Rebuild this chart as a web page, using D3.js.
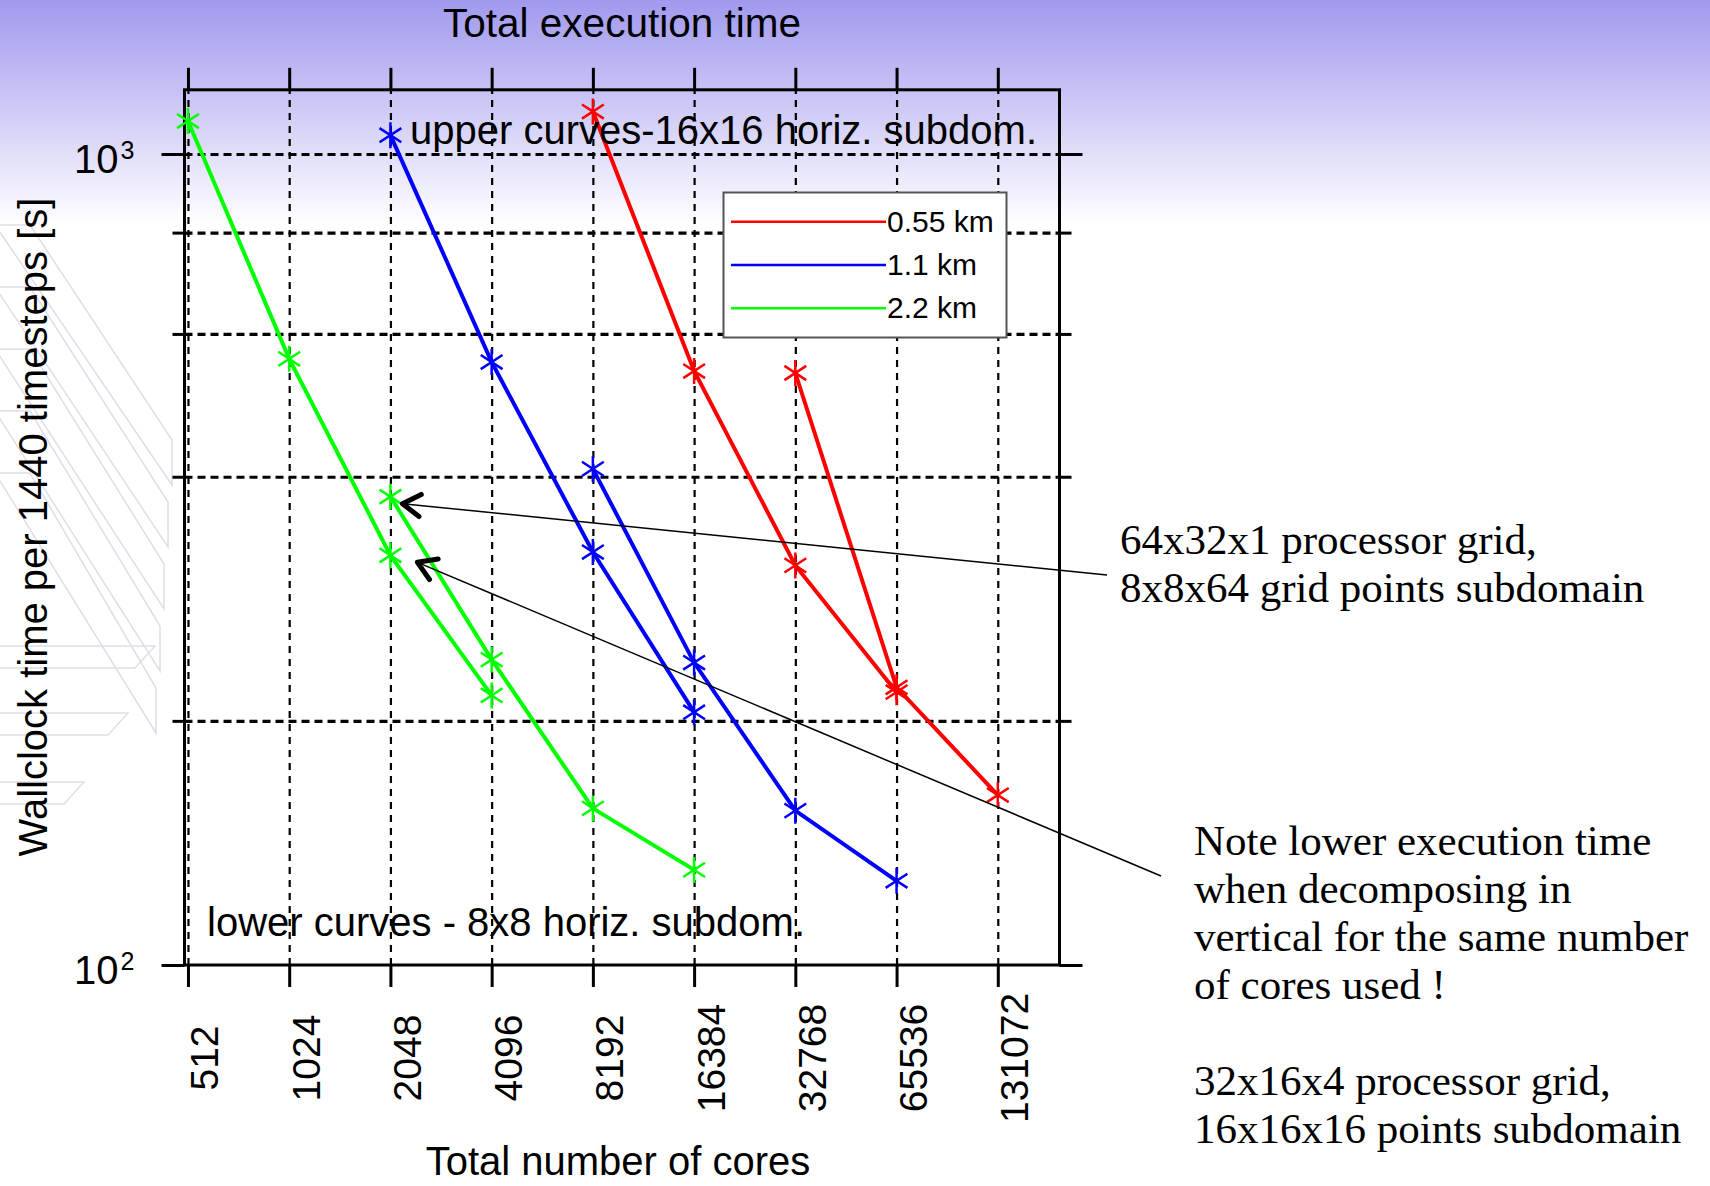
<!DOCTYPE html>
<html>
<head>
<meta charset="utf-8">
<script src="https://cdn.jsdelivr.net/npm/d3@7"></script>
<style>
  body { margin: 0; background: #fff; }
  svg { display: block; }
</style>
</head>
<body>
<script>
// ---- data ----
const coreTicks = [512, 1024, 2048, 4096, 8192, 16384, 32768, 65536, 131072];
const timeMajor = [100, 1000];
const timeMinor = [200, 400, 600, 800];

// 0.55 km
const red16Cores = [8192, 16384, 32768, 65536];
const red16Time = [1128, 540, 311, 217];
const red8Cores = [32768, 65536, 131072];
const red8Time = [537, 220, 162];
// 1.1 km
const blue16Cores = [2048, 4096, 8192, 16384];
const blue16Time = [1055, 554, 323, 205];
const blue8Cores = [8192, 16384, 32768, 65536];
const blue8Time = [409, 236, 155, 127];
// 2.2 km
const green16Cores = [512, 1024, 2048, 4096];
const green16Time = [1098, 559, 320, 215];
const green8Cores = [2048, 4096, 8192, 16384];
const green8Time = [378, 238, 156, 131];

const legendLabels = ["0.55 km", "1.1 km", "2.2 km"];
const legendColors = ["#ff0000", "#0000ff", "#00ff00"];

const noteTop = ["64x32x1 processor grid,", "8x8x64 grid points subdomain"];
const noteBottom = ["Note lower execution time", "when decomposing in", "vertical for the same number",
  "of cores used !", "", "32x16x4 processor grid,", "16x16x16 points subdomain"];

const series = [
  { color: legendColors[0], cores: red16Cores, time: red16Time },
  { color: legendColors[0], cores: red8Cores, time: red8Time },
  { color: legendColors[1], cores: blue16Cores, time: blue16Time },
  { color: legendColors[1], cores: blue8Cores, time: blue8Time },
  { color: legendColors[2], cores: green16Cores, time: green16Time },
  { color: legendColors[2], cores: green8Cores, time: green8Time }
];

const W = 1710, H = 1186;
const sans = "'Liberation Sans', Arial, sans-serif";
const serif = "'Liberation Serif', 'Times New Roman', serif";
const plot = { left: 184.5, right: 1059.5, top: 89.8, bottom: 965 };

const svg = d3.select("body").append("svg")
  .attr("width", W)
  .attr("height", H);

// slide background: purple fade at the top
const defs = svg.append("defs");
const grad = defs.append("linearGradient")
  .attr("id", "bg").attr("x1", 0).attr("y1", 0).attr("x2", 0).attr("y2", 1);
grad.append("stop").attr("offset", 0).attr("stop-color", "#a199ee");
grad.append("stop").attr("offset", 0.19).attr("stop-color", "#ffffff");
svg.append("rect").attr("width", W).attr("height", H).attr("fill", "url(#bg)");

// faint template logo on the left
const logo = svg.append("g").attr("fill", "none").attr("stroke", "#dedee9").attr("stroke-width", 1.5);
for (let k = 0; k < 5; k++) {
  const y0 = 225 + k * 62;
  logo.append("path")
    .attr("d", `M-5,${y0}L30,${y0}L${172 - k * 4},${y0 + 215}L${172 - k * 4},${y0 + 260}Z`);
}
[[646, 155], [713, 128], [782, 84]].forEach(([yy, len]) => {
  logo.append("path").attr("d", `M-5,${yy}L${len},${yy}L${len - 20},${yy + 22}L-5,${yy + 22}`);
});

const x = d3.scaleLog().base(2).domain([500, 200000]).range([plot.left, plot.right]);
const y = d3.scaleLog().domain([100, 1200]).range([plot.bottom, plot.top]);

// grid
const vgrid = svg.append("g")
  .attr("transform", `translate(0,${plot.bottom})`)
  .call(d3.axisBottom(x).tickValues(coreTicks).tickSize(-(plot.bottom - plot.top)).tickFormat(""));
vgrid.select(".domain").remove();
vgrid.selectAll("line").attr("stroke", "#000").attr("stroke-width", 2.2).attr("stroke-dasharray", "7,6");

const hgrid = svg.append("g")
  .attr("transform", `translate(${plot.left},0)`)
  .call(d3.axisLeft(y).tickValues(timeMinor.concat([1000])).tickSize(-(plot.right - plot.left)).tickFormat(""));
hgrid.select(".domain").remove();
hgrid.selectAll("line").attr("stroke", "#000").attr("stroke-width", 3.2).attr("stroke-dasharray", "8,5");

// axes box
svg.append("rect")
  .attr("x", plot.left).attr("y", plot.top)
  .attr("width", plot.right - plot.left).attr("height", plot.bottom - plot.top)
  .attr("fill", "none").attr("stroke", "#000").attr("stroke-width", 3);

function styleAxis(g) {
  g.select(".domain").remove();
  g.selectAll("line").attr("stroke", "#000").attr("stroke-width", 3);
}

// bottom axis with rotated labels
const xAxis = svg.append("g")
  .attr("transform", `translate(0,${plot.bottom})`)
  .call(d3.axisBottom(x).tickValues(coreTicks).tickSize(22).tickSizeOuter(0).tickFormat(d3.format("d")));
styleAxis(xAxis);
xAxis.selectAll("text")
  .attr("y", null).attr("dy", null)
  .attr("transform", "translate(30,93) rotate(-90)")
  .attr("text-anchor", "middle")
  .attr("fill", "#000")
  .style("font-family", sans).style("font-size", "39px");

const xTop = svg.append("g")
  .attr("transform", `translate(0,${plot.top})`)
  .call(d3.axisTop(x).tickValues(coreTicks).tickSize(22).tickSizeOuter(0).tickFormat(""));
styleAxis(xTop);

// y axes, both sides, long major and short minor ticks
[[d3.axisLeft, plot.left], [d3.axisRight, plot.right]].forEach(([axisFn, pos]) => {
  const major = svg.append("g").attr("transform", `translate(${pos},0)`)
    .call(axisFn(y).tickValues(timeMajor).tickSize(23).tickSizeOuter(0).tickFormat(""));
  styleAxis(major);
  const minor = svg.append("g").attr("transform", `translate(${pos},0)`)
    .call(axisFn(y).tickValues(timeMinor).tickSize(12).tickSizeOuter(0).tickFormat(""));
  styleAxis(minor);
  if (pos === plot.left) {
    const lab = major.selectAll(".tick").append("text")
      .attr("x", -50).attr("y", 18)
      .attr("text-anchor", "end")
      .attr("fill", "#000")
      .style("font-family", sans);
    lab.append("tspan").style("font-size", "40px").text("10");
    lab.append("tspan").style("font-size", "25px").attr("dx", 2).attr("dy", -14)
      .text(d => Math.round(Math.log10(d)));
  }
});

// curves
const line = d3.line().x(d => x(d[0])).y(d => y(d[1]));
function asterisk(r) {
  const a = 33 * Math.PI / 180, dx = r * Math.cos(a), dy = r * Math.sin(a);
  return `M0,${-r}V${r}M${-dx},${-dy}L${dx},${dy}M${-dx},${dy}L${dx},${-dy}`;
}
series.forEach(s => {
  const pts = s.cores.map((c, i) => [c, s.time[i]]);
  svg.append("path")
    .attr("d", line(pts))
    .attr("fill", "none").attr("stroke", s.color).attr("stroke-width", 4);
  svg.selectAll(null).data(pts).join("path")
    .attr("transform", d => `translate(${x(d[0])},${y(d[1])})`)
    .attr("d", asterisk(13))
    .attr("fill", "none").attr("stroke", s.color).attr("stroke-width", 2.5);
});

// legend
const leg = svg.append("g");
leg.append("rect")
  .attr("x", 723.5).attr("y", 192.5).attr("width", 283).attr("height", 145)
  .attr("fill", "#fff").attr("stroke", "#555").attr("stroke-width", 2);
legendLabels.forEach((lbl, i) => {
  const ly = 221.7 + i * 43.3;
  leg.append("line").attr("x1", 731).attr("x2", 886).attr("y1", ly).attr("y2", ly)
    .attr("stroke", legendColors[i]).attr("stroke-width", 2.5);
  leg.append("text").attr("x", 887).attr("y", ly + 10)
    .style("font-family", sans).style("font-size", "30px").text(lbl);
});

// texts
function txt(t, px, py, size, opts = {}) {
  return svg.append("text")
    .attr("transform", `translate(${px},${py})` + (opts.rotate ? ` rotate(${opts.rotate})` : ""))
    .attr("text-anchor", opts.anchor || "start")
    .attr("fill", "#000")
    .style("font-family", opts.font || sans)
    .style("font-size", size + "px")
    .text(t);
}
txt("Total execution time", 622, 37, 40.5, { anchor: "middle" });
txt("Total number of cores", 618, 1175, 40, { anchor: "middle" });
txt("Wallclock time per 1440 timesteps [s]", 46.5, 527, 40, { anchor: "middle", rotate: -90 });
txt("upper curves-16x16 horiz. subdom.", 410, 144, 40);
txt("lower curves - 8x8 horiz. subdom.", 207, 936, 40);

noteTop.forEach((t, i) => txt(t, 1120, 554 + i * 48, 43, { font: serif }));
noteBottom.forEach((t, i) => txt(t, 1194, 855 + i * 48, 43, { font: serif }));

// arrows pointing at the two 2048-core green points
const arrows = [
  { tail: [1107, 575], tip: [x(green8Cores[0]) + 12, y(green8Time[0]) + 7] },
  { tail: [1161, 876], tip: [x(green16Cores[2]) + 27, y(green16Time[2]) + 7] }
];
arrows.forEach(a => {
  svg.append("line")
    .attr("x1", a.tail[0]).attr("y1", a.tail[1]).attr("x2", a.tip[0]).attr("y2", a.tip[1])
    .attr("stroke", "#000").attr("stroke-width", 1.5);
  const ang = Math.atan2(a.tail[1] - a.tip[1], a.tail[0] - a.tip[0]);
  const len = 21, spread = 32 * Math.PI / 180;
  const p1 = [a.tip[0] + len * Math.cos(ang - spread), a.tip[1] + len * Math.sin(ang - spread)];
  const p2 = [a.tip[0] + len * Math.cos(ang + spread), a.tip[1] + len * Math.sin(ang + spread)];
  svg.append("path")
    .attr("d", `M${p1}L${a.tip}L${p2}`)
    .attr("fill", "none").attr("stroke", "#000").attr("stroke-width", 5)
    .attr("stroke-linecap", "round").attr("stroke-linejoin", "round");
});
</script>
</body>
</html>
